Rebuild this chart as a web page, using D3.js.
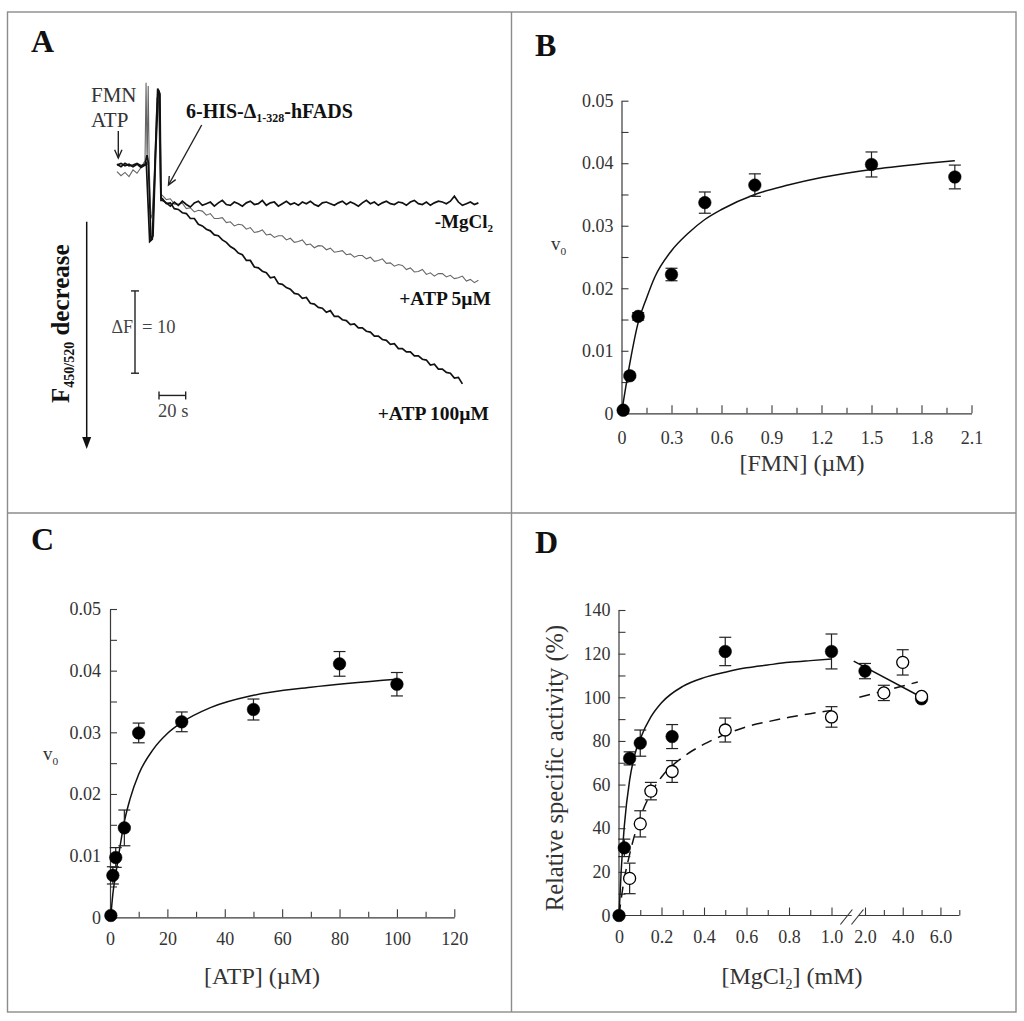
<!DOCTYPE html>
<html><head><meta charset="utf-8">
<script src="https://cdn.jsdelivr.net/npm/d3@7"></script>
<style>
body{margin:0;background:#fff}
svg{display:block}
text{font-family:"Liberation Serif","Times New Roman",serif}
</style>
</head><body>
<svg id="c" width="1024" height="1021"></svg>
<script>
// ---------------- Panel A: fluorescence traces (t in s, F in relative units) ----------------
const preTimes = [0,3,6,9,12,15,18,21];
const mgPre    = [0.1,-0.2,0.2,-0.1,0.0,0.2,-0.1,0.1];
const atp5Pre  = [-0.8,-1.3,-0.9,-1.4,-0.6,-1.0,-0.3,0.5];
const atp100Pre= [0.0,0.2,-0.1,0.1,-0.2,0.1,-0.3,0.0];
const mgSpike    = [[22.5,1.2],[23.5,0.3],[25.5,-9.1],[27,-8.6],[29,1.5],[31,9.1],[32.2,8.6],[33,-4.3]];
const atp5Spike  = [[21.8,10.0],[22.6,0.0],[23.4,9.6],[24.2,-0.5],[25.4,-6.5],[26.4,-6.0],[28,-1],[30,8.2],[31.2,7.6],[32.6,-3.5]];
const atp100Spike= [[22,0.2],[24.5,-9.3],[26.5,-9.0],[28.5,0],[30.5,9.3],[31.8,8.8],[33,-4.0]];
const postStart = 34, postStep = 3;
const mgPost = [-4.3,-4.6,-5.0,-4.5,-4.9,-4.4,-4.8,-5.1,-4.6,-4.4,
 -4.9,-4.7,-4.5,-5.0,-4.6,-4.3,-4.8,-4.9,-4.5,-4.7,
 -5.0,-4.6,-4.4,-4.8,-4.7,-4.3,-4.9,-4.6,-4.5,-5.0,
 -4.7,-4.4,-4.8,-4.6,-4.9,-4.5,-4.7,-4.4,-4.8,-5.0,
 -4.6,-4.5,-4.7,-4.9,-4.6,-4.4,-4.8,-4.5,-4.7,-5.0,
 -4.6,-4.3,-4.7,-4.5,-4.9,-4.6,-4.4,-4.7,-4.8,-4.5,
 -4.6,-4.9,-4.5,-4.3,-4.7,-4.8,-4.5,-4.9,-4.6,-4.4,
 -4.5,-4.7,-4.4,-3.8,-4.5,-4.9,-4.7,-4.5,-4.8,-4.6];
const atp5Post = [-3.7,-4.2,-4.1,-4.75,-4.75,-4.65,-5.3,-5.2,-5.7,-5.5,
 -5.6,-6.1,-5.9,-6.5,-6.5,-6.4,-7.0,-6.9,-7.4,-7.2,
 -7.3,-7.8,-7.6,-8.2,-8.1,-7.9,-8.5,-8.4,-8.8,-8.6,
 -8.6,-9.1,-8.9,-9.4,-9.3,-9.1,-9.7,-9.6,-10.05,-9.8,
 -9.85,-10.3,-10.1,-10.6,-10.5,-10.4,-10.9,-10.8,-11.2,-11.0,
 -11.0,-11.4,-11.2,-11.7,-11.6,-11.4,-11.95,-11.9,-12.3,-12.1,
 -12.2,-12.7,-12.5,-13.0,-12.95,-12.7,-13.3,-13.1,-13.5,-13.2,
 -13.2,-13.6,-13.4,-13.8,-13.7,-13.5,-14.1,-13.9,-14.3,-14.0];
const atp100Post = [-4.1,-4.7,-4.6,-5.3,-5.4,-5.8,-5.9,-6.5,-6.5,-7.2,
 -7.4,-7.8,-8.0,-8.5,-8.6,-9.1,-9.4,-9.9,-10.2,-10.7,
 -10.9,-11.6,-11.6,-12.4,-12.5,-12.9,-13.1,-13.7,-13.6,-14.4,
 -14.5,-14.9,-15.1,-15.6,-15.7,-16.2,-16.1,-16.8,-16.9,-17.3,
 -17.4,-17.9,-17.7,-18.4,-18.4,-18.8,-18.9,-19.4,-19.3,-19.8,
 -19.8,-20.2,-20.3,-20.8,-20.8,-21.2,-21.3,-21.8,-21.7,-22.3,
 -22.3,-22.7,-22.7,-23.2,-23.2,-23.6,-23.7,-24.3,-24.2,-24.8,
 -24.8,-25.2,-25.3,-25.9,-25.8,-26.6];

// ---------------- Panel B: v0 vs [FMN] ----------------
const fmnConc = [0.01,0.05,0.1,0.3,0.5,0.8,1.5,2.0];
const fmnV0   = [0.0005,0.006,0.0155,0.0222,0.0337,0.0365,0.0398,0.0378];
const fmnErr  = [0,0.0003,0.0006,0.001,0.0017,0.0018,0.002,0.0019];
const fmnFitX = [0,0.05,0.1,0.15,0.2,0.3,0.4,0.5,0.6,0.8,1.0,1.2,1.5,1.8,2.0];
const fmnFitY = [0,0.008,0.0145,0.0184,0.0218,0.026,0.0288,0.031,0.0326,0.035,0.0365,0.0377,0.039,0.0399,0.0404];
const bXTicks = [0,0.3,0.6,0.9,1.2,1.5,1.8,2.1];
const bXLabels = ["0","0.3","0.6","0.9","1.2","1.5","1.8","2.1"];
const bXMinor = [0.15,0.45,0.75,1.05,1.35,1.65,1.95];
const vTicks = [0,0.01,0.02,0.03,0.04,0.05];
const vLabels = ["0","0.01","0.02","0.03","0.04","0.05"];
const vMinor = [0.005,0.015,0.025,0.035,0.045];

// ---------------- Panel C: v0 vs [ATP] ----------------
const atpConc = [0.3,1,2,5,10,25,50,80,100];
const atpV0   = [0.0003,0.0068,0.0097,0.0145,0.0299,0.0317,0.0337,0.0411,0.0378];
const atpErr  = [0,0.0014,0.0016,0.0029,0.0016,0.0016,0.0017,0.002,0.0019];
const atpFitX = [0.25,1,2,3.5,5,7,10,15,20,25,35,50,70,100];
const atpFitY = [0,0.0038,0.007,0.0115,0.0155,0.0192,0.0232,0.0272,0.0298,0.0316,0.034,0.036,0.0373,0.0386];
const cXTicks = [0,20,40,60,80,100,120];
const cXMinor = [10,30,50,70,90,110];

// ---------------- Panel D: relative activity vs [MgCl2] ----------------
const mgFilledX = [0,0.025,0.05,0.1,0.25,0.5,1.0];
const mgFilledY = [0,31,72,79,82,121,121];
const mgFilledE = [0,4,3,6,5.5,6.5,8];
const mgFilledHiX = [2.0,5.0];
const mgFilledHiY = [112,99.3];
const mgFilledHiE = [3.5,0];
const mgOpenX = [0.05,0.1,0.15,0.25,0.5,1.0];
const mgOpenY = [17,42,57,66,85,91];
const mgOpenE = [7,6,4,5,5.5,4.7];
const mgOpenHiX = [3.0,4.0,5.0];
const mgOpenHiY = [102,116,100.4];
const mgOpenHiE = [3.5,5.8,0];
const solidFitX = [0,0.01,0.025,0.05,0.075,0.1,0.15,0.2,0.3,0.4,0.5,0.6,0.7,0.8,0.9,1.0];
const solidFitY = [0,20,41,62,74,81,91,97.5,105,109,111.5,113.5,114.8,116,116.8,117.5];
const dashFitX = [0,0.02,0.05,0.1,0.15,0.2,0.3,0.4,0.5,0.6,0.7,0.8,0.9,1.0];
const dashFitY = [0,14,28,45,56,63.5,72.5,78.5,83,86.5,88.8,90.8,92.5,94];
const solidHiX = [1.4,5.0];
const solidHiY = [116.6,100];
const dashHiX = [1.7,4.8];
const dashHiY = [100,107];
const dYTicks = [0,20,40,60,80,100,120,140];
const dYMinor = [10,30,50,70,90,110,130];
const dXLoTicks = [0,0.2,0.4,0.6,0.8,1.0];
const dXLoLabels = ["0","0.2","0.4","0.6","0.8","1.0"];
const dXLoMinor = [0.1,0.3,0.5,0.7,0.9];
const dXHiTicks = [2,4,6];
const dXHiLabels = ["2.0","4.0","6.0"];
const dXHiMinor = [3,5,7];

// =====================================================================
const svg = d3.select("#c");
const INK = "#222", AX = "#3a3a3a", TXT = "#333";
const TICKFS = 18;

// frame and dividers
svg.append("rect").attr("x",7.5).attr("y",12).attr("width",1008.5).attr("height",1000)
  .attr("fill","none").attr("stroke","#8c8c8c").attr("stroke-width",1.4);
svg.append("line").attr("x1",511.5).attr("x2",511.5).attr("y1",12).attr("y2",1012).attr("stroke","#8c8c8c").attr("stroke-width",1.4);
svg.append("line").attr("x1",7.5).attr("x2",1016).attr("y1",513).attr("y2",513).attr("stroke","#8c8c8c").attr("stroke-width",1.4);

// panel letters
[["A",31,52],["B",535,56],["C",31,550],["D",535,553]].forEach(([t,x,y])=>{
  svg.append("text").attr("x",x).attr("y",y).attr("font-size",32).attr("font-weight","bold").attr("fill","#111").text(t);
});

function styleAxis(g, fs){
  g.selectAll("path.domain").attr("stroke",AX).attr("stroke-width",1.2);
  g.selectAll(".tick line").attr("stroke",AX).attr("stroke-width",1.1);
  g.selectAll(".tick text").attr("fill",TXT).attr("font-size",fs).attr("font-family","'Liberation Serif',serif");
}
function xAxisFull(x, y0, ticks, labels, minor, pad){
  const g = svg.append("g").attr("transform",`translate(0,${y0})`)
    .call(d3.axisBottom(x).tickValues(ticks).tickFormat((d,i)=>labels[i]).tickSizeInner(-8).tickSizeOuter(0).tickPadding(pad));
  styleAxis(g,TICKFS);
  const m = svg.append("g").attr("transform",`translate(0,${y0})`)
    .call(d3.axisBottom(x).tickValues(minor).tickFormat("").tickSizeInner(-5.5).tickSizeOuter(0));
  m.select("path.domain").remove(); styleAxis(m,TICKFS);
  return g;
}
function yAxisFull(y, x0, ticks, labels, minor, pad){
  const g = svg.append("g").attr("transform",`translate(${x0},0)`)
    .call(d3.axisLeft(y).tickValues(ticks).tickFormat((d,i)=>labels[i]).tickSizeInner(-7).tickSizeOuter(0).tickPadding(pad));
  styleAxis(g,TICKFS);
  const m = svg.append("g").attr("transform",`translate(${x0},0)`)
    .call(d3.axisLeft(y).tickValues(minor).tickFormat("").tickSizeInner(-7).tickSizeOuter(0));
  m.select("path.domain").remove(); styleAxis(m,TICKFS);
  return g;
}
function errBars(x, y, xs, ys, es, cap){
  xs.forEach((xv,i)=>{
    if(!es[i]) return;
    const cx = x(xv), y1 = y(ys[i]-es[i]), y2 = y(ys[i]+es[i]);
    const g = svg.append("g").attr("stroke",INK).attr("stroke-width",1.2);
    g.append("line").attr("x1",cx).attr("x2",cx).attr("y1",y1).attr("y2",y2);
    g.append("line").attr("x1",cx-cap).attr("x2",cx+cap).attr("y1",y1).attr("y2",y1);
    g.append("line").attr("x1",cx-cap).attr("x2",cx+cap).attr("y1",y2).attr("y2",y2);
  });
}
function dots(x, y, xs, ys, r, open){
  svg.append("g").selectAll("circle").data(xs).join("circle")
    .attr("cx",d=>x(d)).attr("cy",(d,i)=>y(ys[i])).attr("r",r)
    .attr("fill",open?"#fff":"#000").attr("stroke","#000").attr("stroke-width",open?1.3:0.5);
}
function curve(x, y, xs, ys, dash){
  const p = svg.append("path").datum(xs.map((d,i)=>[d,ys[i]]))
    .attr("fill","none").attr("stroke","#111").attr("stroke-width",1.5)
    .attr("d", d3.line().x(d=>x(d[0])).y(d=>y(d[1])).curve(d3.curveMonotoneX));
  if(dash) p.attr("stroke-dasharray",dash);
}
function subLabel(x, y, main, sub, fs, anchor){
  const t = svg.append("text").attr("x",x).attr("y",y).attr("font-size",fs).attr("fill",TXT);
  if(anchor) t.attr("text-anchor",anchor);
  t.append("tspan").text(main);
  t.append("tspan").attr("font-size",fs*0.6).attr("dy",fs*0.25).text(sub);
  return t;
}

// ---------------- Panel A ----------------
const aX = d3.scaleLinear().domain([0,275]).range([117, 117+275*26.67/20]);
const aY = d3.scaleLinear().domain([0,-30]).range([165, 165+30*8.23]);
function buildTrace(pre, spike, post){
  const pts = preTimes.map((t,i)=>[t,pre[i]]);
  spike.forEach(p=>pts.push(p));
  post.forEach((v,i)=>pts.push([postStart+i*postStep, v]));
  return pts;
}
const lineA = d3.line().x(d=>aX(d[0])).y(d=>aY(d[1]));
svg.append("path").datum(buildTrace(atp5Pre,atp5Spike,atp5Post)).attr("d",lineA)
  .attr("fill","none").attr("stroke","#666").attr("stroke-width",1.1);
svg.append("path").datum(buildTrace(atp100Pre,atp100Spike,atp100Post)).attr("d",lineA)
  .attr("fill","none").attr("stroke","#111").attr("stroke-width",1.7);
svg.append("path").datum(buildTrace(mgPre,mgSpike,mgPost)).attr("d",lineA)
  .attr("fill","none").attr("stroke","#111").attr("stroke-width",1.7);

// annotations in A
svg.append("text").attr("x",91).attr("y",101.5).attr("font-size",21).attr("fill",TXT).text("FMN");
svg.append("text").attr("x",91).attr("y",126.5).attr("font-size",21).attr("fill",TXT).text("ATP");
function vArrow(x1,y1,x2,y2){
  const g = svg.append("g").attr("stroke","#222").attr("stroke-width",1.4).attr("fill","none");
  g.append("line").attr("x1",x1).attr("y1",y1).attr("x2",x2).attr("y2",y2);
  const a = Math.atan2(y2-y1,x2-x1), L=9;
  g.append("path").attr("d",`M${x2-L*Math.cos(a-0.42)},${y2-L*Math.sin(a-0.42)}L${x2},${y2}L${x2-L*Math.cos(a+0.42)},${y2-L*Math.sin(a+0.42)}`);
}
vArrow(118.3,131,118.3,158);
vArrow(201.7,125,168.5,185);
const hfads = svg.append("text").attr("x",186).attr("y",118).attr("font-size",20).attr("font-weight","bold").attr("fill","#111");
hfads.append("tspan").text("6-HIS-Δ");
hfads.append("tspan").attr("font-size",12).attr("dy",4).text("1-328");
hfads.append("tspan").attr("dy",-4).text("-hFADS");

const mgl = svg.append("text").attr("x",493).attr("y",228).attr("font-size",19).attr("font-weight","bold").attr("fill","#111").attr("text-anchor","end");
mgl.append("tspan").text("-MgCl");
mgl.append("tspan").attr("font-size",11).attr("dy",4).text("2");
svg.append("text").attr("x",491).attr("y",305).attr("font-size",19.5).attr("font-weight","bold").attr("fill","#111").attr("text-anchor","end").text("+ATP 5µM");
svg.append("text").attr("x",489).attr("y",420).attr("font-size",19.5).attr("font-weight","bold").attr("fill","#111").attr("text-anchor","end").text("+ATP 100µM");

// scale bars
const sb = svg.append("g").attr("stroke","#222").attr("stroke-width",1.4);
const bx = aX(13.5), by1 = aY(-15.3), by2 = aY(-25.3);
sb.append("line").attr("x1",bx).attr("x2",bx).attr("y1",by1).attr("y2",by2);
sb.append("line").attr("x1",bx-4).attr("x2",bx+4).attr("y1",by1).attr("y2",by1);
sb.append("line").attr("x1",bx-4).attr("x2",bx+4).attr("y1",by2).attr("y2",by2);
const tx1 = aX(31.5), tx2 = aX(51.5), ty = aY(-28.0);
sb.append("line").attr("x1",tx1).attr("x2",tx2).attr("y1",ty).attr("y2",ty);
sb.append("line").attr("x1",tx1).attr("x2",tx1).attr("y1",ty-4).attr("y2",ty+4);
sb.append("line").attr("x1",tx2).attr("x2",tx2).attr("y1",ty-4).attr("y2",ty+4);
svg.append("text").attr("x",bx-2).attr("y",333).attr("text-anchor","end").attr("font-size",18).attr("fill","#444").text("ΔF");
svg.append("text").attr("x",bx+7).attr("y",333).attr("font-size",18.5).attr("fill","#444").text("= 10");
svg.append("text").attr("x",tx1-1).attr("y",417).attr("font-size",18.5).attr("fill","#444").text("20 s");

// F decrease arrow + rotated label
svg.append("line").attr("x1",86.7).attr("x2",86.7).attr("y1",221.7).attr("y2",440).attr("stroke","#111").attr("stroke-width",1.5);
svg.append("path").attr("d","M82.2,437L91.2,437L86.7,449Z").attr("fill","#111");
const fl = svg.append("text").attr("transform","translate(69,403) rotate(-90)").attr("font-size",25).attr("font-weight","bold").attr("fill","#111");
fl.append("tspan").text("F");
fl.append("tspan").attr("font-size",14).attr("dy",5).text("450/520");
fl.append("tspan").attr("dy",-5).text(" decrease");

// ---------------- Panel B ----------------
const bX = d3.scaleLinear().domain([0,2.1]).range([621.5,971.5]);
const bY = d3.scaleLinear().domain([0,0.05]).range([413.3,100.7]);
xAxisFull(bX, bY(0), bXTicks, bXLabels, bXMinor, 18);
yAxisFull(bY, bX(0), vTicks, vLabels, vMinor, 8);
curve(bX,bY,fmnFitX,fmnFitY);
errBars(bX,bY,fmnConc,fmnV0,fmnErr,6);
dots(bX,bY,fmnConc,fmnV0,6.3,false);
svg.append("text").attr("x",802).attr("y",471).attr("text-anchor","middle").attr("font-size",24).attr("fill",TXT).text("[FMN] (µM)");
subLabel(551,250,"v","0",19);

// ---------------- Panel C ----------------
const cX = d3.scaleLinear().domain([0,120]).range([110,454.3]);
const cY = d3.scaleLinear().domain([0,0.05]).range([917.3,609]);
xAxisFull(cX, cY(0), cXTicks, cXTicks.map(String), cXMinor, 15);
yAxisFull(cY, cX(0), vTicks, vLabels, vMinor, 9);
curve(cX,cY,atpFitX,atpFitY);
errBars(cX,cY,atpConc,atpV0,atpErr,6);
dots(cX,cY,atpConc,atpV0,6.3,false);
svg.append("text").attr("x",262).attr("y",984).attr("text-anchor","middle").attr("font-size",24).attr("fill",TXT).text("[ATP] (µM)");
subLabel(43,760,"v","0",19);

// ---------------- Panel D ----------------
const dY = d3.scaleLinear().domain([0,140]).range([915.5,610]);
const dXL = d3.scaleLinear().domain([0,1]).range([619,831.5]);
const dXR = d3.scaleLinear().domain([2,7]).range([865,959.3]);
const y0D = dY(0);
const axD = svg.append("g").attr("stroke",AX).attr("stroke-width",1.2);
axD.append("line").attr("x1",618.5).attr("x2",dXL(1.095)).attr("y1",y0D).attr("y2",y0D);
axD.append("line").attr("x1",dXR(1.66)).attr("x2",dXR(7)).attr("y1",y0D).attr("y2",y0D);
[dXL(1.07), dXR(1.6)].forEach(bxp=>{
  axD.append("line").attr("x1",bxp-6).attr("y1",y0D+9).attr("x2",bxp+6).attr("y2",y0D-6);
});
function dXAxis(scale, ticks, labels, minor){
  const g = svg.append("g").attr("transform",`translate(0,${y0D})`)
    .call(d3.axisBottom(scale).tickValues(ticks).tickFormat((d,i)=>labels[i]).tickSizeInner(-8).tickSizeOuter(0).tickPadding(15));
  g.select("path.domain").remove(); styleAxis(g,TICKFS);
  const m = svg.append("g").attr("transform",`translate(0,${y0D})`)
    .call(d3.axisBottom(scale).tickValues(minor).tickFormat("").tickSizeInner(-5.5).tickSizeOuter(0));
  m.select("path.domain").remove(); styleAxis(m,TICKFS);
}
dXAxis(dXL, dXLoTicks, dXLoLabels, dXLoMinor);
dXAxis(dXR, dXHiTicks, dXHiLabels, dXHiMinor);
yAxisFull(dY, 618.5, dYTicks, dYTicks.map(String), dYMinor, 8);

curve(dXL,dY,solidFitX,solidFitY);
curve(dXL,dY,dashFitX,dashFitY,"11,7");
curve(dXR,dY,solidHiX,solidHiY);
curve(dXR,dY,dashHiX,dashHiY,"11,7");
errBars(dXL,dY,mgFilledX,mgFilledY,mgFilledE,6);
errBars(dXL,dY,mgOpenX,mgOpenY,mgOpenE,6);
errBars(dXR,dY,mgFilledHiX,mgFilledHiY,mgFilledHiE,6);
errBars(dXR,dY,mgOpenHiX,mgOpenHiY,mgOpenHiE,6);
dots(dXL,dY,mgOpenX,mgOpenY,6,true);
dots(dXL,dY,mgFilledX,mgFilledY,6.3,false);
dots(dXR,dY,mgFilledHiX,mgFilledHiY,6.3,false);
dots(dXR,dY,mgOpenHiX,mgOpenHiY,6,true);

const dxt = svg.append("text").attr("x",792).attr("y",984).attr("text-anchor","middle").attr("font-size",24).attr("fill",TXT);
dxt.append("tspan").text("[MgCl");
dxt.append("tspan").attr("font-size",14).attr("dy",5).text("2");
dxt.append("tspan").attr("dy",-5).text("] (mM)");
svg.append("text").attr("transform","translate(563,768) rotate(-90)").attr("text-anchor","middle")
  .attr("font-size",24.5).attr("fill",TXT).text("Relative specific activity (%)");
</script>
</body></html>
